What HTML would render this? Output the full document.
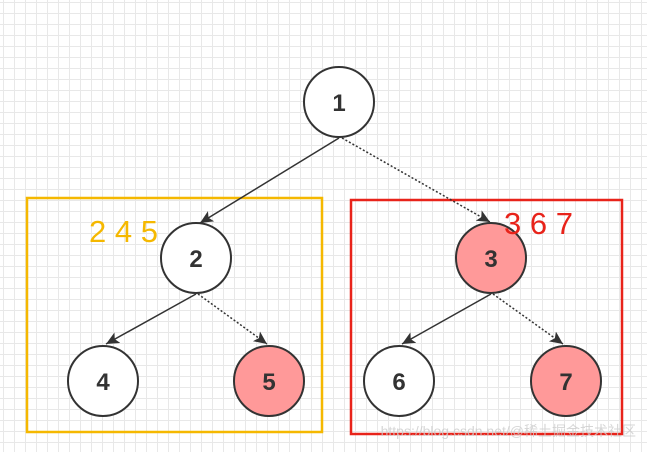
<!DOCTYPE html>
<html><head><style>
html,body{margin:0;padding:0;}
body{width:647px;height:452px;overflow:hidden;background:#fff;
background-image:linear-gradient(#e8e8e8 1px,transparent 1px),linear-gradient(90deg,#e8e8e8 1px,transparent 1px);
background-size:11px 11px;background-position:3px 2px;}
svg{position:absolute;left:0;top:0;}
</style></head><body>
<svg width="647" height="452" viewBox="0 0 647 452">
<defs>
<marker id="a" markerWidth="14" markerHeight="14" refX="13" refY="6" orient="auto" markerUnits="userSpaceOnUse">
<path d="M0,0 L13,6 L0,12 L3,6 Z" fill="#333"/></marker>
</defs>
<rect x="27" y="198" width="295" height="234" fill="none" stroke="#f5b800" stroke-width="2.5"/>
<rect x="351" y="200" width="271" height="234" fill="none" stroke="#e8231a" stroke-width="2.5"/>
<g stroke="#333" stroke-width="1.5" fill="none">
<line x1="339" y1="138" x2="200" y2="223" marker-end="url(#a)"/>
<line x1="342" y1="138" x2="490" y2="222" stroke-dasharray="2,2" marker-end="url(#a)"/>
<line x1="196" y1="294" x2="106" y2="344" marker-end="url(#a)"/>
<line x1="198" y1="294" x2="267" y2="344" stroke-dasharray="2,2" marker-end="url(#a)"/>
<line x1="491" y1="294" x2="402" y2="344" marker-end="url(#a)"/>
<line x1="493" y1="294" x2="563" y2="344" stroke-dasharray="2,2" marker-end="url(#a)"/>
</g>
<g stroke="#333" stroke-width="2">
<ellipse cx="339" cy="102" rx="35" ry="35" fill="#fff"/>
<ellipse cx="196" cy="258" rx="35" ry="35" fill="#fff"/>
<ellipse cx="491" cy="258" rx="35" ry="35" fill="#f99"/>
<ellipse cx="103" cy="381" rx="35" ry="35" fill="#fff"/>
<ellipse cx="269" cy="381" rx="35" ry="35" fill="#f99"/>
<ellipse cx="399" cy="381" rx="35" ry="35" fill="#fff"/>
<ellipse cx="566" cy="381" rx="35" ry="35" fill="#f99"/>
</g>
<g font-family="Liberation Sans, sans-serif" font-weight="bold" font-size="24" fill="#333" text-anchor="middle">
<text x="339" y="111">1</text>
<text x="196" y="267">2</text>
<text x="491" y="267">3</text>
<text x="103" y="390">4</text>
<text x="269" y="390">5</text>
<text x="399" y="390">6</text>
<text x="566" y="390">7</text>
</g>
<text x="89" y="242" font-family="Liberation Sans, sans-serif" font-size="31" fill="#f5b800">2 4 5</text>
<text x="504" y="234" font-family="Liberation Sans, sans-serif" font-size="31" fill="#e8231a">3 6 7</text>
<text x="636" y="436" text-anchor="end" font-family="Liberation Sans, 'Noto Sans CJK SC', sans-serif" font-size="14" fill="#ccc" opacity="0.8">https://blog.csdn.net/@稀土掘金技术社区</text>
</svg>
</body></html>
